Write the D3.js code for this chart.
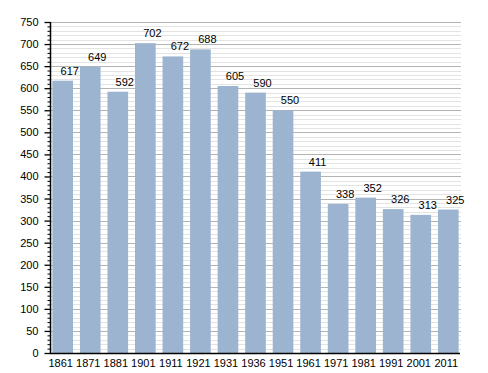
<!DOCTYPE html>
<html>
<head>
<meta charset="utf-8">
<script src="https://cdn.jsdelivr.net/npm/d3@7"></script>
<style>
body { margin: 0; background: #fff; }
text { font-family: "Liberation Sans", Arial, sans-serif; font-size: 11px; fill: #000; }
</style>
</head>
<body>
<div id="chart"></div>
<script>

var years = ["1861","1871","1881","1901","1911","1921","1931","1936","1951","1961","1971","1981","1991","2001","2011"]
var population = [617,649,592,702,672,688,605,590,550,411,338,352,326,313,325]
var yTicks = [0,50,100,150,200,250,300,350,400,450,500,550,600,650,700,750]

var width = 488, height = 373

var svg = d3.select("#chart").append("svg")
  .attr("width", width)
  .attr("height", height)

var x = d3.scaleBand().domain(years).range([51, 460]).paddingInner(0.25).paddingOuter(0.05)
var y = d3.scaleLinear().domain([0, 750]).range([353, 22])

//minor grid every 10
var minor = d3.range(10, 751, 10).filter(function(d){ return d % 50 != 0 })
svg.append("g").selectAll("line")
  .data(minor)
  .enter()
  .append("line")
  .attr("x1", 51).attr("x2", 461)
  .attr("y1", function(d){ return Math.round(y(d)) + 0.5 })
  .attr("y2", function(d){ return Math.round(y(d)) + 0.5 })
  .style("stroke", "#e3e3e3")
  .style("stroke-width", "1px")

//major grid
svg.append("g").selectAll("line")
  .data(yTicks.slice(1))
  .enter()
  .append("line")
  .attr("x1", 51).attr("x2", 461)
  .attr("y1", function(d){ return Math.round(y(d)) + 0.5 })
  .attr("y2", function(d){ return Math.round(y(d)) + 0.5 })
  .style("stroke", "#b4b4b4")
  .style("stroke-width", "1px")

//bars
svg.append("g").selectAll("rect")
  .data(population)
  .enter()
  .append("rect")
  .attr("x", function(d, i){ return x(years[i]) })
  .attr("width", x.bandwidth())
  .attr("y", function(d){ return y(d) })
  .attr("height", function(d){ return y(0) - y(d) })
  .style("fill", "#9cb4cf")

//value labels (sit a little right of the bar centre)
svg.append("g").selectAll("text")
  .data(population)
  .enter()
  .append("text")
  .attr("x", function(d, i){ return x(years[i]) + x.bandwidth() / 2 + 7 })
  .attr("y", function(d){ return y(d) - 6 })
  .attr("text-anchor", "middle")
  .text(function(d){ return d })

//y axis
var yAxis = d3.axisLeft(y).tickValues(yTicks).tickSize(6).tickPadding(6)
var yG = svg.append("g").attr("transform", "translate(50.5,0)").call(yAxis)
yG.select(".domain").attr("d", "M0," + y(0) + "V" + y(750)).style("stroke", "#000").style("stroke-width", "1.5px")
yG.selectAll(".tick line").style("stroke", "#000").style("stroke-width", "1.3px")
yG.selectAll(".tick text").style("font-size", "11px").style("font-family", "Liberation Sans, Arial, sans-serif")

var yMinor = d3.axisLeft(y).tickValues(minor).tickSize(3).tickFormat("")
var ymG = svg.append("g").attr("transform", "translate(50.5,0)").call(yMinor)
ymG.select(".domain").remove()
ymG.selectAll(".tick line").style("stroke", "#000")

//x axis
var xAxis = d3.axisBottom(x).tickSize(0).tickPadding(6)
var xG = svg.append("g").attr("transform", "translate(0," + (y(0) + 0.5) + ")").call(xAxis)
xG.select(".domain").attr("d", "M50,0H460").style("stroke", "#000").style("stroke-width", "1.5px")
xG.selectAll(".tick text").attr("dx", -2).style("font-size", "11px").style("font-family", "Liberation Sans, Arial, sans-serif")

</script>
</body>
</html>
